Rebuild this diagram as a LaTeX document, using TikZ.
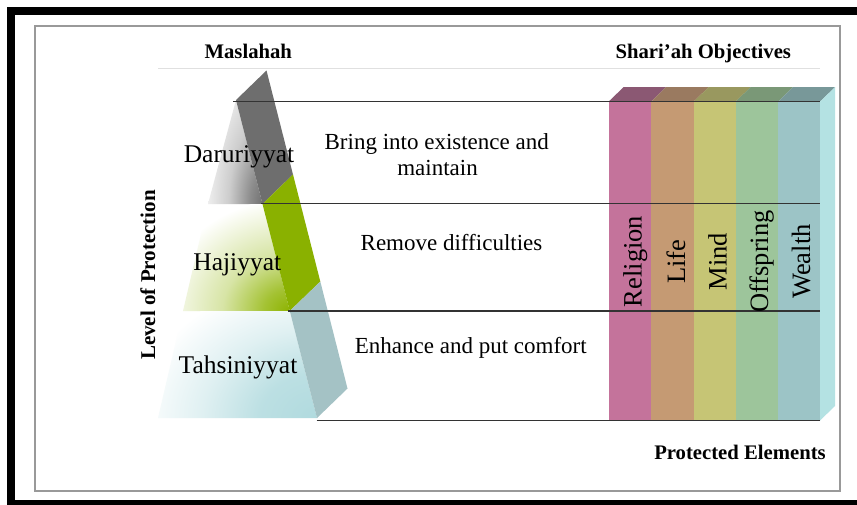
\documentclass[tikz,border=0pt]{standalone}
\usepackage{fontspec}
\setmainfont{Liberation Serif}
\usetikzlibrary{calc}
\definecolor{stripgrey}{HTML}{6E6E6E}
\definecolor{stripgreen}{HTML}{8AB100}
\definecolor{stripblue}{HTML}{A4C2C5}
\definecolor{shgrey}{HTML}{707070}
\definecolor{shgreen}{HTML}{8DB300}
\definecolor{shblue}{HTML}{B0DADE}
\definecolor{cRel}{HTML}{C4739B}
\definecolor{cLife}{HTML}{C59A73}
\definecolor{cMind}{HTML}{C6C575}
\definecolor{cOff}{HTML}{9DC59B}
\definecolor{cWea}{HTML}{9CC4C6}
\definecolor{tRel}{HTML}{8B5873}
\definecolor{tLife}{HTML}{9A7A60}
\definecolor{tMind}{HTML}{99985F}
\definecolor{tOff}{HTML}{7A9877}
\definecolor{tWea}{HTML}{789899}
\definecolor{cSide}{HTML}{B4E2E3}
\pgfdeclareradialshading{fadegrey}{\pgfpoint{0bp}{0bp}}{color(0bp)=(shgrey); color(5bp)=(shgrey!80!white); color(13bp)=(shgrey!35!white); color(25bp)=(white); color(50bp)=(white)}
\pgfdeclareradialshading{fadegreen}{\pgfpoint{0bp}{0bp}}{color(0bp)=(shgreen); color(5bp)=(shgreen!80!white); color(13bp)=(shgreen!35!white); color(25bp)=(white); color(50bp)=(white)}
\pgfdeclareradialshading{fadeblue}{\pgfpoint{0bp}{0bp}}{color(0bp)=(shblue); color(8bp)=(shblue!85!white); color(16bp)=(shblue!40!white); color(25bp)=(white); color(50bp)=(white)}
\begin{document}
\begin{tikzpicture}[x=1pt,y=-1pt,
  hline/.style={draw=black!80, line width=1.3pt},
  lbl/.style={font=\fontsize{25.5}{30}\selectfont, inner sep=0pt, anchor=base},
  midtext/.style={font=\fontsize{23}{28}\selectfont, inner sep=0pt, anchor=base},
  head/.style={font=\bfseries\fontsize{20.7}{24}\selectfont, inner sep=0pt, anchor=base},
  coltext/.style={font=\fontsize{26.5}{30}\selectfont, inner sep=0pt, anchor=base, rotate=90}]
\useasboundingbox (0,0) rectangle (857,504);
\clip (0,0) rectangle (857,504);
\fill[white] (0,0) rectangle (857,504);
% frames
\draw[line width=7.7pt] (11.2,11.2) rectangle (900,503.8);
\draw[draw=black!40, line width=1.8pt] (35,26) rectangle (840,491);
\draw[black!12, line width=0.6pt] (158,68.3) -- (820,68.3);
% headings
\node[head] (maslahah) at (248.3,58) {Maslahah};
\node[head] (shariah) at (703.3,58) {Shari’ah Objectives};
\node[head] (protected) at (740,459.3) {Protected Elements};
\node[head, rotate=90, font=\bfseries\fontsize{21}{24}\selectfont] (level) at (155,275) {Level of Protection};
% pyramid gradients
\begin{scope}
  \clip (236,100) -- (262.5,204) -- (208,204) -- cycle;
  \shade[shading=fadegrey] (263,204) ellipse (66 and 160);
\end{scope}
\begin{scope}
  \clip (208,204) -- (262.5,204) -- (289.8,311) -- (183,311) -- cycle;
  \shade[shading=fadegreen] (290,311) ellipse (130 and 112);
\end{scope}
\begin{scope}
  \clip (183,311) -- (289.8,311) -- (317,418) -- (158,418) -- cycle;
  \shade[shading=fadeblue] (317,418) ellipse (180 and 140);
\end{scope}
% slanted strip
\coordinate (s0) at (236,100);
\coordinate (s1) at (262.5,204);
\coordinate (s2) at (289.8,311);
\coordinate (s3) at (317,418);
\fill[stripgrey] (s0) -- (s1) -- ++(30.5,-29.5) -- ($(s0)+(30.5,-29.5)$) -- cycle;
\fill[stripgreen] (s1) -- (s2) -- ++(30.5,-29.5) -- ($(s1)+(30.5,-29.5)$) -- cycle;
\fill[stripblue] (s2) -- (s3) -- ++(30.5,-29.5) -- ($(s2)+(30.5,-29.5)$) -- cycle;
% box of protected elements
\foreach \xa/\xb/\cf/\ct in {608.5/651/cRel/tRel, 651/693.5/cLife/tLife, 693.5/735.5/cMind/tMind, 735.5/778/cOff/tOff, 778/820/cWea/tWea}{
  \fill[\cf] (\xa,101.7) rectangle (\xb,420.5);
  \fill[\ct] (\xa,101.7) -- (\xb,101.7) -- (\xb+15,87.2) -- (\xa+15,87.2) -- cycle;
}
\fill[cSide] (820,101.7) -- (835,87.2) -- (835,406) -- (820,420.5) -- cycle;
% horizontal lines
\coordinate (h1a) at (233,101.7); \coordinate (h1b) at (820,101.7);
\coordinate (h2a) at (261,203.5); \coordinate (h2b) at (820,203.5);
\coordinate (h3a) at (288,311); \coordinate (h3b) at (820,311);
\coordinate (h4a) at (316.5,420.5); \coordinate (h4b) at (820,420.5);
\draw[hline] (h1a) -- (h1b);
\draw[hline] (h2a) -- (h2b);
\draw[hline] (h3a) -- (h3b);
\draw[hline] (h4a) -- (h4b);
% level labels
\node[lbl] (daru) at (239,162.7) {Daruriyyat};
\node[lbl] (haji) at (237.3,270) {Hajiyyat};
\node[lbl] (tahs) at (238,373.3) {Tahsiniyyat};
% middle texts
\node[midtext] (bring) at (436.7,149.5) {Bring into existence and};
\node[midtext] (maint) at (437.5,175.5) {maintain};
\node[midtext] (remove) at (451.5,250) {Remove difficulties};
\node[midtext] (enhance) at (470.8,353) {Enhance and put comfort};
% element labels
\node[coltext] (religion) at (641.7,261.5) {Religion};
\node[coltext] (life) at (685,261.5) {Life};
\node[coltext] (mind) at (726.7,261.5) {Mind};
\node[coltext] (offspring) at (768,261.5) {Offspring};
\node[coltext] (wealth) at (810,261.5) {Wealth};
\end{tikzpicture}
\end{document}
